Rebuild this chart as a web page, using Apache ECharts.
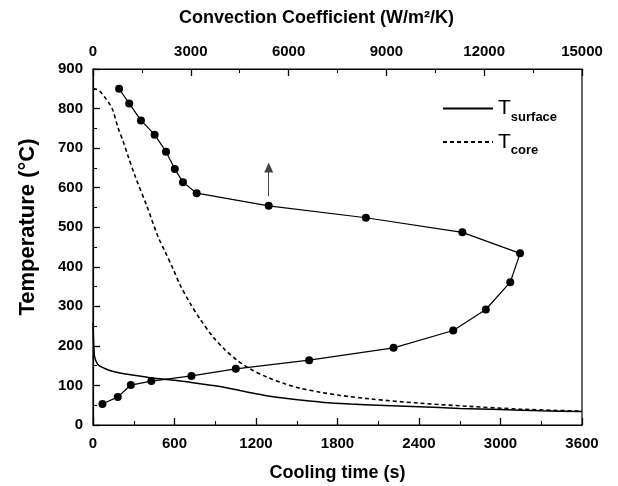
<!DOCTYPE html>
<html>
<head>
<meta charset="utf-8">
<script src="https://cdn.jsdelivr.net/npm/echarts@6/dist/echarts.min.js"></script>
<style>
  html, body { margin: 0; padding: 0; background: #fff; }
  #chart { width: 618px; height: 486px; }
</style>
</head>
<body>
<div id="chart"></div>
<script>
// Surface temperature during cooling (time in s, temperature in °C)
const surfaceTime = [0, 4, 8, 12, 24, 45, 86, 130, 208, 300, 454, 600, 675, 750, 900, 1000, 1082, 1200, 1279, 1400, 1524, 1700, 1900, 2100, 2400, 2700, 3000, 3300, 3600];
const surfaceTemp = [260, 215, 188, 173, 160, 150, 143, 137, 131, 126, 118, 113, 110, 106, 99, 93, 87, 79, 74, 68, 63, 57, 53, 50, 46, 42, 39, 36, 34];

// Core temperature during cooling
const coreTime = [0, 30, 52, 88, 125, 147, 184, 221, 258, 309, 398, 479, 531, 589, 640, 714, 788, 883, 972, 1060, 1156, 1281, 1413, 1524, 1671, 1818, 2039, 2407, 2775, 3143, 3600];
const coreTemp = [850, 848, 843, 828, 810, 795, 752, 718, 680, 630, 552, 476, 438, 395, 355, 308, 268, 223, 190, 164, 142, 121, 104, 93, 83, 75, 66, 55, 47, 40, 35];

// Convection coefficient (W/m²/K) against surface temperature (°C)
const convCoeff = [800, 1110, 1470, 1890, 2240, 2510, 2760, 3180, 5390, 8370, 11330, 13100, 12800, 12050, 11050, 9220, 6630, 4380, 3020, 1790, 1160, 760, 290];
const convTemp = [850, 813, 770, 734, 691, 647, 614, 586, 554, 524, 487, 434, 361, 292, 239, 195, 164, 142, 124, 111, 101, 71, 53];

// Direction arrow on the convection curve
const arrowCoeff = 5390;
const arrowTemp = [578, 651];

const legendSub = { surface: 'surface', core: 'core' };

const zip = (xs, ys) => xs.map((x, i) => [x, ys[i]]);

const black = '#000';
const family = 'Liberation Sans, Arial, sans-serif';
const tickFont = { color: black, fontWeight: 'bold', fontSize: 15, fontFamily: family };
const nameFont = { color: black, fontWeight: 'bold', fontSize: 18, fontFamily: family };

// Shared axis look: boxed frame, ticks pointing into the plot
function axisBase() {
  return {
    type: 'value',
    axisLine: { show: true, onZero: false, lineStyle: { color: black, width: 1.2 } },
    axisTick: { show: true, inside: true, length: 7, lineStyle: { color: black, width: 1.3 } },
    minorTick: { show: true, splitNumber: 2, length: 4, lineStyle: { color: black, width: 1.1 } },
    splitLine: { show: false },
    axisLabel: Object.assign({ margin: 9, formatter: v => String(v) }, tickFont),
    nameLocation: 'middle',
    nameTextStyle: Object.assign({}, nameFont)
  };
}

const chart = echarts.init(document.getElementById('chart'), null, { renderer: 'canvas' });

const xBottom = Object.assign(axisBase(), {
  position: 'bottom', min: 0, max: 3600, interval: 600,
  name: 'Cooling time (s)', nameGap: 39
});
xBottom.axisLabel.margin = 11;

const xTop = Object.assign(axisBase(), {
  position: 'top', min: 0, max: 15000, interval: 3000,
  name: 'Convection Coefficient (W/m²/K)', nameGap: 42
});
xTop.nameTextStyle.padding = [0, 42, 0, 0];
xTop.axisLabel.margin = 10;

const yLeft = Object.assign(axisBase(), {
  position: 'left', min: 0, max: 900, interval: 100,
  name: 'Temperature (°C)', nameGap: 54, nameRotate: 90
});
yLeft.nameTextStyle.fontSize = 22;
yLeft.nameTextStyle.padding = [0, 0, 0, 40];
yLeft.axisLabel.margin = 10;

chart.setOption({
  animation: false,
  backgroundColor: '#fff',
  grid: {
    left: 93, right: 36, top: 69, bottom: 61,
    containLabel: false, outerBoundsMode: 'none',
    show: true, borderColor: black, borderWidth: 1.2, backgroundColor: 'transparent'
  },
  xAxis: [xBottom, xTop],
  yAxis: [yLeft],
  legend: {
    orient: 'vertical',
    left: 442, top: 98,
    padding: 0,
    itemWidth: 50, itemHeight: 4, itemGap: 8,
    itemStyle: { opacity: 0 },
    selectedMode: false,
    data: ['surface', 'core'],
    formatter: name => '{t|T}{s|' + legendSub[name] + '}',
    textStyle: {
      color: black,
      rich: {
        t: { fontSize: 21, fontFamily: family, color: black, lineHeight: 30, verticalAlign: 'middle' },
        s: { fontSize: 13, fontWeight: 'bold', fontFamily: family, color: black, lineHeight: 4, verticalAlign: 'bottom' }
      }
    }
  },
  series: [
    {
      name: 'surface', type: 'line', xAxisIndex: 0, yAxisIndex: 0,
      data: zip(surfaceTime, surfaceTemp),
      symbol: 'none', smooth: 0.3,
      lineStyle: { color: black, width: 1.5 },
      itemStyle: { color: black }
    },
    {
      name: 'core', type: 'line', xAxisIndex: 0, yAxisIndex: 0,
      data: zip(coreTime, coreTemp),
      symbol: 'none', smooth: 0.3,
      lineStyle: { color: black, width: 1.6, type: [4, 3] },
      itemStyle: { color: black }
    },
    {
      name: 'convection', type: 'line', xAxisIndex: 1, yAxisIndex: 0,
      data: zip(convCoeff, convTemp),
      symbol: 'circle', symbolSize: 8,
      lineStyle: { color: black, width: 1.2 },
      itemStyle: { color: black },
      markLine: {
        silent: true,
        symbol: ['none', 'triangle'],
        symbolSize: [9, 10],
        label: { show: false },
        lineStyle: { color: '#444', width: 1, type: 'solid' },
        data: [[
          { coord: [arrowCoeff, arrowTemp[0]] },
          { coord: [arrowCoeff, arrowTemp[1]] }
        ]]
      }
    }
  ]
});
</script>
</body>
</html>
